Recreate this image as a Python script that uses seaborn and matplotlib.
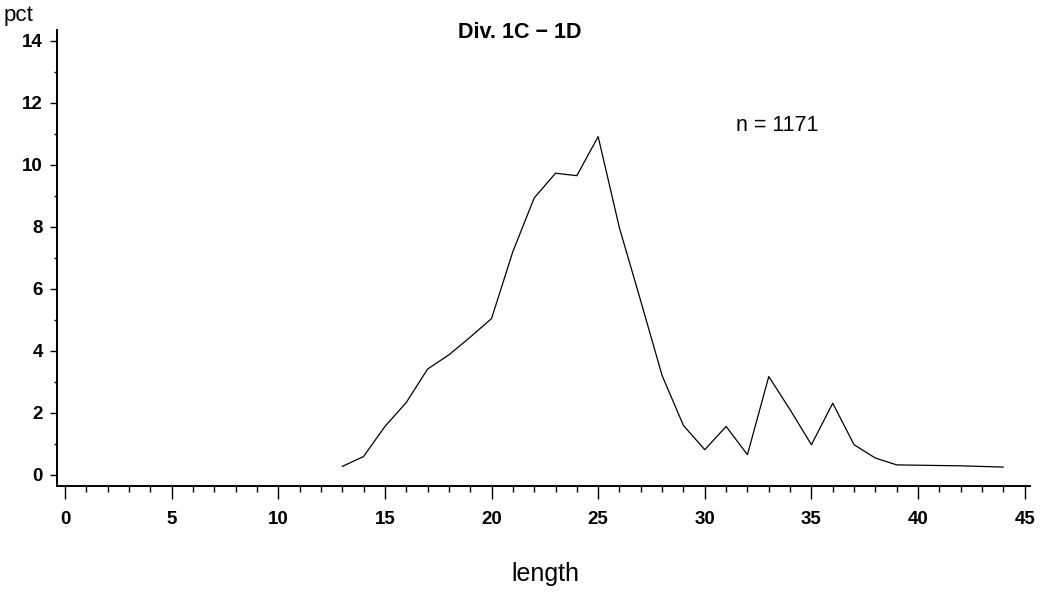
import matplotlib
matplotlib.use("Agg")
import matplotlib.pyplot as plt
import seaborn as sns
import pandas as pd
from matplotlib.ticker import MultipleLocator

length = [13, 14, 15, 16, 17, 18, 19, 20, 21, 22, 23, 24, 25, 26, 27, 28,
          29, 30, 31, 32, 33, 34, 35, 36, 37, 38, 39, 40, 41, 42, 43, 44]
pct = [0.27, 0.59, 1.56, 2.33, 3.41, 3.87, 4.44, 5.04, 7.2, 8.93, 9.73, 9.65,
       10.91, 7.96, 5.6, 3.2, 1.59, 0.81, 1.56, 0.65, 3.17, 2.1, 0.97, 2.31,
       0.97, 0.54, 0.32, 0.31, 0.30, 0.29, 0.27, 0.25]
title = "Div. 1C \u2212 1D"
note = "n = 1171"
x_ticks = [0, 5, 10, 15, 20, 25, 30, 35, 40, 45]
y_ticks = [0, 2, 4, 6, 8, 10, 12, 14]

sns.set_style("ticks")
plt.rcParams["font.family"] = ["Liberation Sans", "DejaVu Sans"]
plt.rcParams["text.color"] = "black"

df = pd.DataFrame({"length": length, "pct": pct})

fig = plt.figure(figsize=(10.42, 5.96), dpi=100)
ax = fig.add_axes([0.0547, 0.1846, 0.9338, 0.7651])
sns.lineplot(data=df, x="length", y="pct", ax=ax, color="black", linewidth=0.9)

ax.set_xlim(-0.375, 45.25)
ax.set_ylim(-0.36, 14.35)
ax.set_xticks(x_ticks)
ax.set_yticks(y_ticks)
ax.xaxis.set_minor_locator(MultipleLocator(1))
ax.yaxis.set_minor_locator(MultipleLocator(1))
for s in ["top", "right"]:
    ax.spines[s].set_visible(False)
for s in ["left", "bottom"]:
    ax.spines[s].set_linewidth(1.4)
    ax.spines[s].set_color("black")

ax.tick_params(axis="x", which="major", length=9, width=1, pad=9, labelsize=13.5, colors="black")
ax.tick_params(axis="x", which="minor", length=4.5, width=1, colors="black")
ax.tick_params(axis="y", which="major", length=5, width=1, pad=5, labelsize=13.5, colors="black")
ax.tick_params(axis="y", which="minor", length=2.5, width=1, colors="black")
for lab in ax.get_xticklabels() + ax.get_yticklabels():
    lab.set_fontweight("bold")

ax.set_xlabel("")
ax.set_ylabel("")
fig.text(545 / 1042, 1 - 574 / 596, "length", ha="center", va="center", fontsize=18, color="black")
fig.text(4 / 1042, 1 - 16 / 596, "pct", ha="left", va="center", fontsize=16, color="black")
fig.text(520 / 1042, 1 - 33 / 596, title, ha="center", va="center", fontsize=15.5,
         fontweight="bold", color="black")
fig.text(777 / 1042, 1 - 125 / 596, note, ha="center", va="center", fontsize=15.5, color="black")

fig.savefig("out.png", dpi=100)
